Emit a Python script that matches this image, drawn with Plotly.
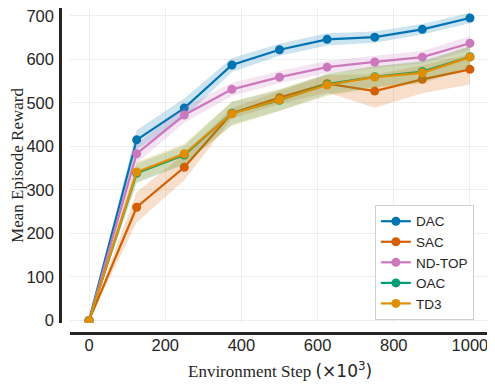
import plotly.graph_objects as go

steps = [0, 125, 250, 375, 500, 625, 750, 875, 1000]

names = ["DAC", "SAC", "ND-TOP", "OAC", "TD3"]
colors = ["#0173b2", "#d55e00", "#cc78bc", "#029e73", "#de8f05"]
fills = ["rgba(1,115,178,0.2)", "rgba(213,94,0,0.2)", "rgba(204,120,188,0.2)",
         "rgba(2,158,115,0.2)", "rgba(222,143,5,0.2)"]

dac_mean = [0, 415, 488, 587, 622, 646, 651, 669, 695]
sac_mean = [0, 260, 352, 476, 512, 544, 527, 554, 577]
ndtop_mean = [0, 383, 472, 531, 559, 582, 594, 605, 637]
oac_mean = [0, 338, 380, 476, 506, 543, 560, 572, 606]
td3_mean = [0, 341, 383, 475, 507, 541, 559, 569, 605]

dac_err = [0, 22, 22, 16, 14, 14, 13, 12, 12]
sac_err = [0, 35, 30, 12, 15, 20, 38, 32, 35]
ndtop_err = [0, 22, 18, 15, 14, 14, 14, 14, 16]
oac_err = [0, 22, 22, 26, 24, 24, 24, 24, 24]
td3_err = [0, 23, 23, 28, 25, 25, 25, 25, 25]

means = [dac_mean, sac_mean, ndtop_mean, oac_mean, td3_mean]
errs = [dac_err, sac_err, ndtop_err, oac_err, td3_err]

fig = go.Figure()

for name, color, fill, m, e in zip(names, colors, fills, means, errs):
    upper = [a + b for a, b in zip(m, e)]
    lower = [a - b for a, b in zip(m, e)]
    # shaded band
    fig.add_trace(go.Scatter(
        x=steps + steps[::-1], y=upper + lower[::-1],
        fill="toself", fillcolor=fill, line=dict(width=0),
        mode="lines", hoverinfo="skip", showlegend=False))
    fig.add_trace(go.Scatter(
        x=steps, y=m, mode="lines+markers", name=name,
        line=dict(color=color, width=2.2),
        marker=dict(size=9, color=color)))

# x title as annotation so it can sit close to the tick labels
fig.add_annotation(
    x=0.513, y=-0.113, xref="paper", yref="paper", showarrow=False,
    xanchor="center", yanchor="middle",
    text="Environment Step <span style='font-family:DejaVu Sans'>(×10<sup>3</sup>)</span>",
    font=dict(family="Liberation Serif", size=17, color="#262626"))

# page body has an 8px margin, so the figure is drawn 8px smaller
fig.update_layout(
    width=487, height=380,
    paper_bgcolor="white", plot_bgcolor="white",
    margin=dict(l=52, r=6, t=0, b=55),
    font=dict(family="Liberation Sans", color="#262626"),
    xaxis=dict(
        domain=[10 / 429, 1], anchor="free", position=0, automargin=False,
        range=[-50, 1050], tickvals=[0, 200, 400, 600, 800, 1000],
        showgrid=True, gridcolor="#eeeeee", gridwidth=1, zeroline=False,
        showline=True, linecolor="#262626", linewidth=2.5,
        ticks="", ticklabelstandoff=-4,
        tickfont=dict(size=16.5, color="#262626"), ticklabeloverflow="allow",
    ),
    yaxis=dict(
        domain=[10 / 325, 1], anchor="free", position=0, automargin=False,
        range=[-6, 718], tickvals=[0, 100, 200, 300, 400, 500, 600, 700],
        showgrid=True, gridcolor="#eeeeee", gridwidth=1, zeroline=False,
        showline=True, linecolor="#262626", linewidth=2.5,
        ticks="outside", ticklen=2, tickcolor="rgba(0,0,0,0)",
        tickfont=dict(size=16.5, color="#262626"), ticklabeloverflow="allow",
        title=dict(text="Mean Episode Reward",
                   font=dict(family="Liberation Serif", size=17, color="#262626"), standoff=10),
    ),
    legend=dict(
        x=0.734, y=0.394, xanchor="left", yanchor="top",
        bgcolor="white", bordercolor="#d0d0d0", borderwidth=1,
        font=dict(size=13.5, color="#262626"),
    ),
)

fig.write_html("out.html")
